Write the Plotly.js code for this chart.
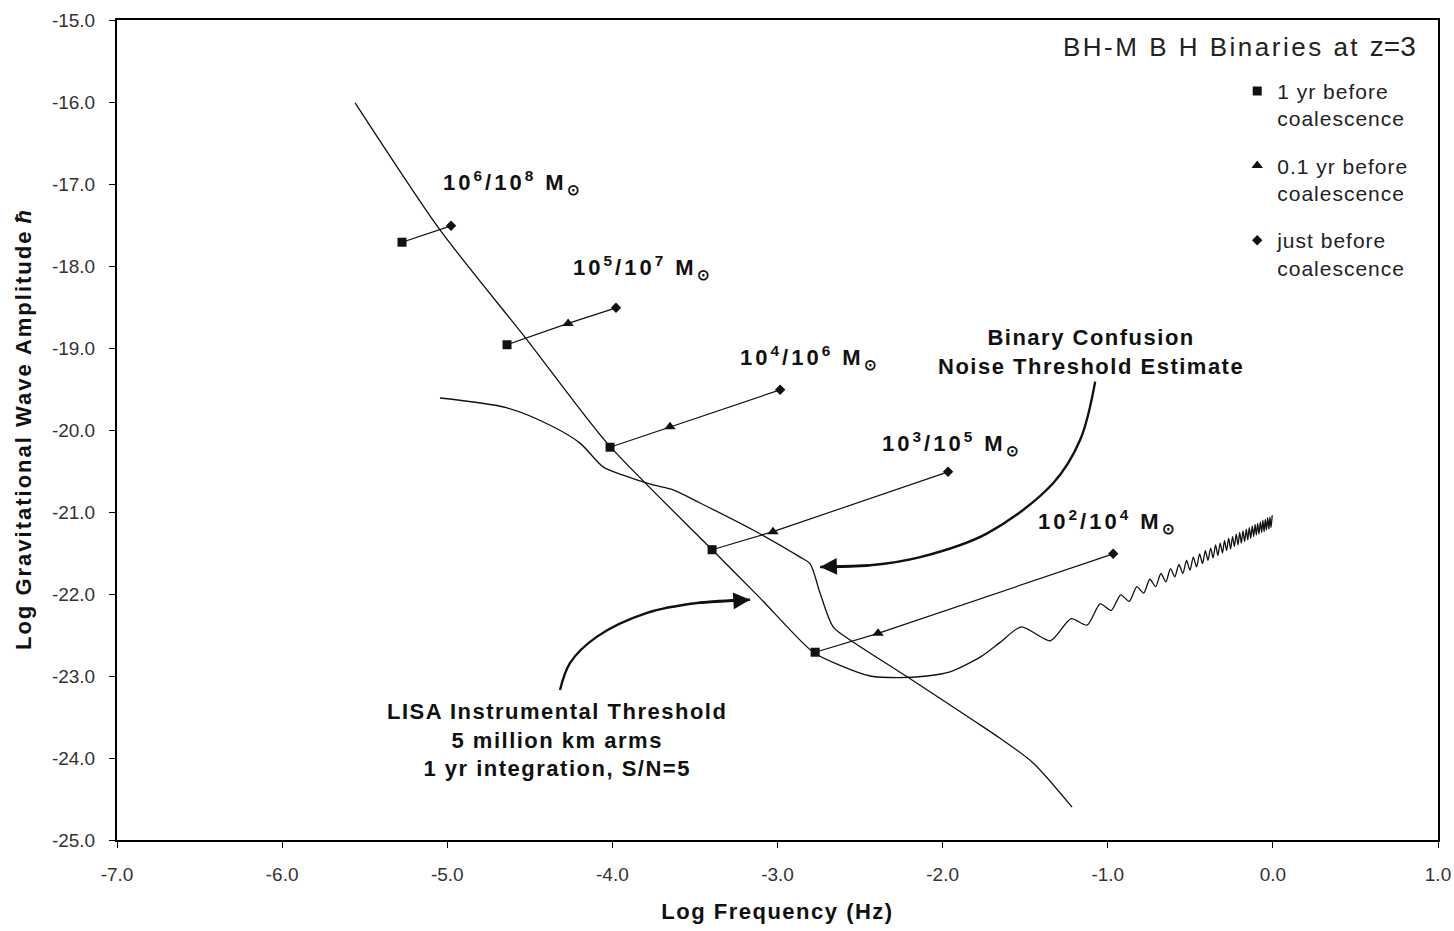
<!DOCTYPE html>
<html>
<head>
<meta charset="utf-8">
<script src="https://cdn.plot.ly/plotly-3.0.1.min.js"></script>
<style>
html,body{margin:0;padding:0;background:#fff;}
#chart{width:1454px;height:931px;}
</style>
</head>
<body>
<div id="chart"></div>
<script>
// ---------- data ----------
// LISA instrumental threshold curve (log f, log h)
const lisaX = [-5.558, -5.044, -4.517, -4.032, -3.396, -3.105, -2.784, -2.621, -2.439, -2.270, -2.094, -1.955, -1.773, -1.652,
  -1.523, -1.347, -1.222, -1.125, -1.046, -0.979, -0.921, -0.870, -0.824, -0.783, -0.745, -0.710, -0.678, -0.648, -0.620, -0.594,
  -0.569, -0.545, -0.523, -0.502, -0.482, -0.462, -0.444, -0.426, -0.409, -0.393, -0.377, -0.362, -0.347, -0.333, -0.319, -0.305,
  -0.293, -0.280, -0.268, -0.256, -0.244, -0.233, -0.222, -0.211, -0.201, -0.191, -0.181, -0.171, -0.161, -0.152, -0.143, -0.134,
  -0.125, -0.116, -0.108, -0.100, -0.092, -0.084, -0.076, -0.068, -0.061, -0.053, -0.046, -0.039, -0.032, -0.024, -0.018, -0.011, -0.004];
const lisaY = [-16.01, -17.56, -18.90, -20.16, -21.46, -22.05, -22.71, -22.87, -23.00, -23.02, -23.00, -22.95, -22.77, -22.59,
  -22.40, -22.57, -22.30, -22.38, -22.12, -22.20, -22.01, -22.09, -21.91, -21.99, -21.82, -21.91, -21.75, -21.85, -21.69, -21.79,
  -21.64, -21.75, -21.59, -21.71, -21.55, -21.67, -21.51, -21.63, -21.47, -21.59, -21.44, -21.56, -21.40, -21.53, -21.38, -21.50,
  -21.35, -21.47, -21.32, -21.45, -21.30, -21.42, -21.27, -21.40, -21.25, -21.38, -21.23, -21.36, -21.21, -21.34, -21.19, -21.32,
  -21.17, -21.30, -21.15, -21.28, -21.14, -21.27, -21.12, -21.25, -21.10, -21.24, -21.09, -21.22, -21.07, -21.21, -21.06, -21.19, -21.04];

// Binary confusion noise threshold estimate
const confX = [-5.044, -4.638, -4.359, -4.196, -4.056, -3.935, -3.753, -3.632, -3.469, -3.148, -2.863, -2.803, -2.742, -2.663, -2.560, -2.215, -1.815, -1.652, -1.452, -1.216];
const confY = [-19.61, -19.73, -19.96, -20.16, -20.45, -20.55, -20.67, -20.73, -20.89, -21.22, -21.55, -21.63, -21.99, -22.40, -22.56, -23.01, -23.54, -23.76, -24.06, -24.60];

// Binaries (one entry per mass pair)
const binaryNames = ["10<sup>6</sup>/10<sup>8</sup> M<sub>\u2299</sub>", "10<sup>5</sup>/10<sup>7</sup> M<sub>\u2299</sub>",
  "10<sup>4</sup>/10<sup>6</sup> M<sub>\u2299</sub>", "10<sup>3</sup>/10<sup>5</sup> M<sub>\u2299</sub>", "10<sup>2</sup>/10<sup>4</sup> M<sub>\u2299</sub>"];
const yr1X  = [-5.274, -4.638, -4.014, -3.396, -2.772];
const yr1Y  = [-17.71, -18.96, -20.21, -21.46, -22.71];
const yr01X = [null, -4.268, -3.651, -3.027, -2.391];
const yr01Y = [null, -18.70, -19.96, -21.24, -22.48];
const justX = [-4.977, -3.978, -2.984, -1.967, -0.967];
const justY = [-17.51, -18.51, -19.51, -20.51, -21.51];

// Callout arrows (paths ending at the tip)
const confArrowX = [-1.076, -1.167, -1.331, -1.730, -2.136, -2.439, -2.742];
const confArrowY = [-19.41, -20.12, -20.65, -21.26, -21.55, -21.65, -21.67];
const lisaArrowX = [-4.317, -4.256, -4.093, -3.790, -3.487, -3.166];
const lisaArrowY = [-23.17, -22.84, -22.52, -22.23, -22.11, -22.07];

// Tick labels
const xTickVals = [-7, -6, -5, -4, -3, -2, -1, 0, 1];
const xTickText = ["-7.0", "-6.0", "-5.0", "-4.0", "-3.0", "-2.0", "-1.0", "0.0", "1.0"];
const yTickVals = [-25, -24, -23, -22, -21, -20, -19, -18, -17, -16, -15];
const yTickText = ["-25.0", "-24.0", "-23.0", "-22.0", "-21.0", "-20.0", "-19.0", "-18.0", "-17.0", "-16.0", "-15.0"];

// ---------- traces ----------
const INK = '#111';
const FAM = 'Liberation Sans, Arial, sans-serif';
const sp = (t, px) => '<span style="letter-spacing:' + px + 'px">' + t + '</span>';
const traces = [];
traces.push({x: lisaX, y: lisaY, mode: 'lines', line: {color: INK, width: 1.3, shape: 'spline', smoothing: 0.7}, showlegend: false, hoverinfo: 'skip'});
traces.push({x: confX, y: confY, mode: 'lines', line: {color: INK, width: 1.3, shape: 'spline', smoothing: 0.8}, showlegend: false, hoverinfo: 'skip'});

for (let i = 0; i < binaryNames.length; i++) {
  const bx = [yr1X[i], yr01X[i], justX[i]];
  const by = [yr1Y[i], yr01Y[i], justY[i]];
  const keep = bx.map((v, k) => v !== null && by[k] !== null);
  traces.push({x: bx.filter((v, k) => keep[k]), y: by.filter((v, k) => keep[k]), mode: 'lines',
    line: {color: INK, width: 1.2}, showlegend: false, hoverinfo: 'skip'});
}

traces.push({x: confArrowX, y: confArrowY, mode: 'lines', line: {color: INK, width: 2.4, shape: 'spline'}, showlegend: false, hoverinfo: 'skip'});
traces.push({x: lisaArrowX, y: lisaArrowY, mode: 'lines', line: {color: INK, width: 2.4, shape: 'spline'}, showlegend: false, hoverinfo: 'skip'});

traces.push({x: yr1X, y: yr1Y, mode: 'markers', name: sp('1 yr before', 1) + '<br>' + sp('coalescence', 1), legendgroup: 'a',
  marker: {symbol: 'square', size: 9, color: INK}});
traces.push({x: yr01X, y: yr01Y, mode: 'markers', name: sp('0.1 yr before', 1) + '<br>' + sp('coalescence', 1), legendgroup: 'b',
  marker: {symbol: 'triangle-up', size: 10, color: INK}});
traces.push({x: justX, y: justY, mode: 'markers', name: sp('just before', 1) + '<br>' + sp('coalescence', 1), legendgroup: 'c',
  marker: {symbol: 'diamond', size: 8, color: INK}});

// ---------- annotations ----------
const labelFont = {family: FAM, size: 22, color: INK};
const annotations = [];
const labelPos = [[-4.601, -16.98], [-3.814, -18.02], [-2.803, -19.11], [-1.943, -20.17], [-0.998, -21.12]];
binaryNames.forEach((t, i) => {
  annotations.push({x: labelPos[i][0], y: labelPos[i][1], xref: 'x', yref: 'y', text: '<b>' + sp(t, 3) + '</b>', showarrow: false,
    font: labelFont, xanchor: 'center', yanchor: 'middle'});
});
annotations.push({x: -1.100, y: -19.05, xref: 'x', yref: 'y', showarrow: false, xanchor: 'center', yanchor: 'middle',
  text: '<b>' + sp('Binary Confusion', 1.5) + '<br>' + sp('Noise Threshold Estimate', 1.5) + '</b>', font: labelFont});
annotations.push({x: -4.335, y: -23.78, xref: 'x', yref: 'y', showarrow: false, xanchor: 'center', yanchor: 'middle',
  text: '<b>' + sp('LISA Instrumental Threshold', 1.5) + '<br>' + sp('5 million km arms', 1.5) + '<br>' + sp('1 yr integration, S/N=5', 1.5) + '</b>',
  font: labelFont});
// arrow heads at the tips of the callout paths
const nC = confArrowX.length, nL = lisaArrowX.length;
annotations.push({x: confArrowX[nC - 1], y: confArrowY[nC - 1], ax: confArrowX[nC - 2], ay: confArrowY[nC - 2],
  xref: 'x', yref: 'y', axref: 'x', ayref: 'y', text: '', showarrow: true, arrowhead: 2, arrowsize: 1.4, arrowwidth: 2.4, arrowcolor: INK});
annotations.push({x: lisaArrowX[nL - 1], y: lisaArrowY[nL - 1], ax: lisaArrowX[nL - 2], ay: lisaArrowY[nL - 2],
  xref: 'x', yref: 'y', axref: 'x', ayref: 'y', text: '', showarrow: true, arrowhead: 2, arrowsize: 1.4, arrowwidth: 2.4, arrowcolor: INK});
// box title
annotations.push({x: 0.985, y: 0.968, xref: 'paper', yref: 'paper', xanchor: 'right', yanchor: 'middle', showarrow: false,
  text: sp('BH-M B H Binaries at ', 2.5) + '<span style="font-size:28px">z=3</span>', font: {family: FAM, size: 26, color: '#222'}});

const tickFont = {family: FAM, size: 19, color: '#333'};
const titleFont = {family: FAM, size: 22, color: INK};

const layout = {
  width: 1454, height: 931,
  margin: {l: 117, r: 16, t: 20, b: 91},
  paper_bgcolor: '#fff', plot_bgcolor: '#fff',
  xaxis: {range: [-7, 1], tickvals: xTickVals, ticktext: xTickText, showgrid: false, zeroline: false,
    showline: true, mirror: true, linecolor: '#000', linewidth: 2, ticks: 'outside', ticklen: 6, tickcolor: '#000', tickwidth: 1,
    ticklabelstandoff: 10,
    tickfont: tickFont, title: {text: '<b>' + sp('Log Frequency (Hz)', 1.5) + '</b>', font: titleFont, standoff: 20}, automargin: false},
  yaxis: {range: [-25, -15], tickvals: yTickVals, ticktext: yTickText, showgrid: false, zeroline: false,
    showline: true, mirror: true, linecolor: '#000', linewidth: 2, ticks: 'outside', ticklen: 6, tickcolor: '#000', tickwidth: 1,
    ticklabelstandoff: 10,
    tickfont: tickFont, title: {text: '<b>' + sp('Log Gravitational Wave Amplitude', 2) + ' <i>\u0127</i></b>', font: titleFont, standoff: 14}, automargin: false},
  showlegend: true,
  legend: {x: 0.848, y: 0.938, xanchor: 'left', yanchor: 'top', bgcolor: 'rgba(0,0,0,0)', borderwidth: 0,
    font: {family: FAM, size: 21, color: '#222'}, traceorder: 'grouped', tracegroupgap: 17,
    itemwidth: 30, valign: 'top'},
  annotations: annotations
};

Plotly.newPlot('chart', traces, layout, {displayModeBar: false, staticPlot: true});
</script>
</body>
</html>
